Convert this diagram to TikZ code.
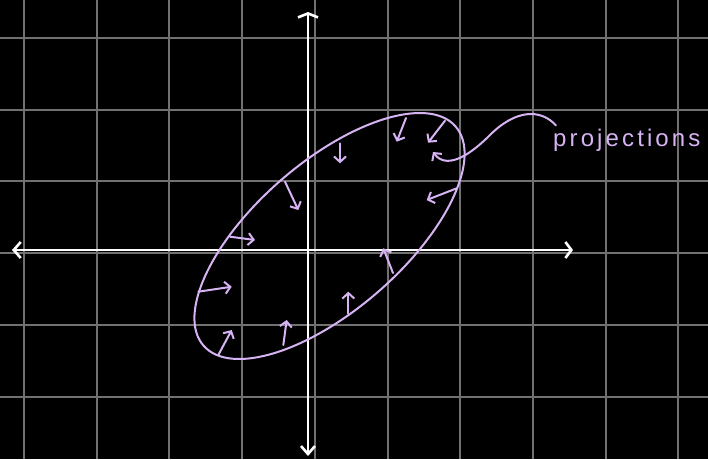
\documentclass[tikz,border=0pt]{standalone}
\usepackage{fontspec}
\newfontfamily\handfont[LetterSpace=13]{Liberation Sans}
\usepackage{xcolor}
\usepackage{tikz}
\usetikzlibrary{arrows.meta}
\definecolor{lilac}{HTML}{D6B4F4}
\definecolor{gridgrey}{HTML}{717171}

\begin{document}
\begin{tikzpicture}[x=1pt,y=-1pt,>={Straight Barb[length=5.5pt,width=12pt]},
   gridline/.style={gridgrey,line width=2pt},
   axis/.style={white,line width=2.6pt,line cap=round},
   curve/.style={lilac,line width=2pt},
   proj/.style={curve,->,line cap=round}]
\fill[black] (0,0) rectangle (708,459);
\useasboundingbox (0,0) rectangle (708,459);
% grid
\foreach \i in {0,...,9}
  \draw[gridline] (24+72.7*\i,0) -- ++(0,459);
\foreach \j in {0,...,5}
  \draw[gridline] (0,37.7+71.8*\j) -- ++(708,0);
% axes
\draw[axis,{Straight Barb[length=7pt,width=16pt]}-{Straight Barb[length=6pt,width=16pt]}] (12,250) -- (573,250);
\draw[axis,{Straight Barb[length=4pt,width=20pt]}-{Straight Barb[length=8pt,width=14pt]}] (308,12) -- (308,456);
% ellipse
\coordinate (c) at (329.5,236);
\draw[curve,rotate around={41:(c)}] (c) ellipse [x radius=167, y radius=74];
% projections onto the ellipse
\foreach \sx/\sy/\tx/\ty in {406/118/396.7/141.7, 445/120.7/428/142.7,
    456.7/188.3/426.7/200, 393/273/383.3/248.3, 348.3/313.3/348.3/291.7,
    283.3/345/286.7/320, 218.3/355/231.7/330, 198.3/291.7/231.7/286.7,
    230/236.7/255/240, 285/181.7/298.3/210, 340/143.3/340/163.3}
  \draw[proj] (\sx,\sy) -- (\tx,\ty);
% label
\coordinate (tip) at (433,152);
\node[anchor=base west,inner sep=0,text=lilac,font=\handfont\fontsize{24}{24}\selectfont] (label) at (553,146) {projections};
\draw[proj] ([xshift=3pt,yshift=3pt]label.north west) .. controls (540,108) and (515,110) .. (490,135)
   .. controls (465,160) and (445,168) .. (tip);
\end{tikzpicture}
\end{document}
